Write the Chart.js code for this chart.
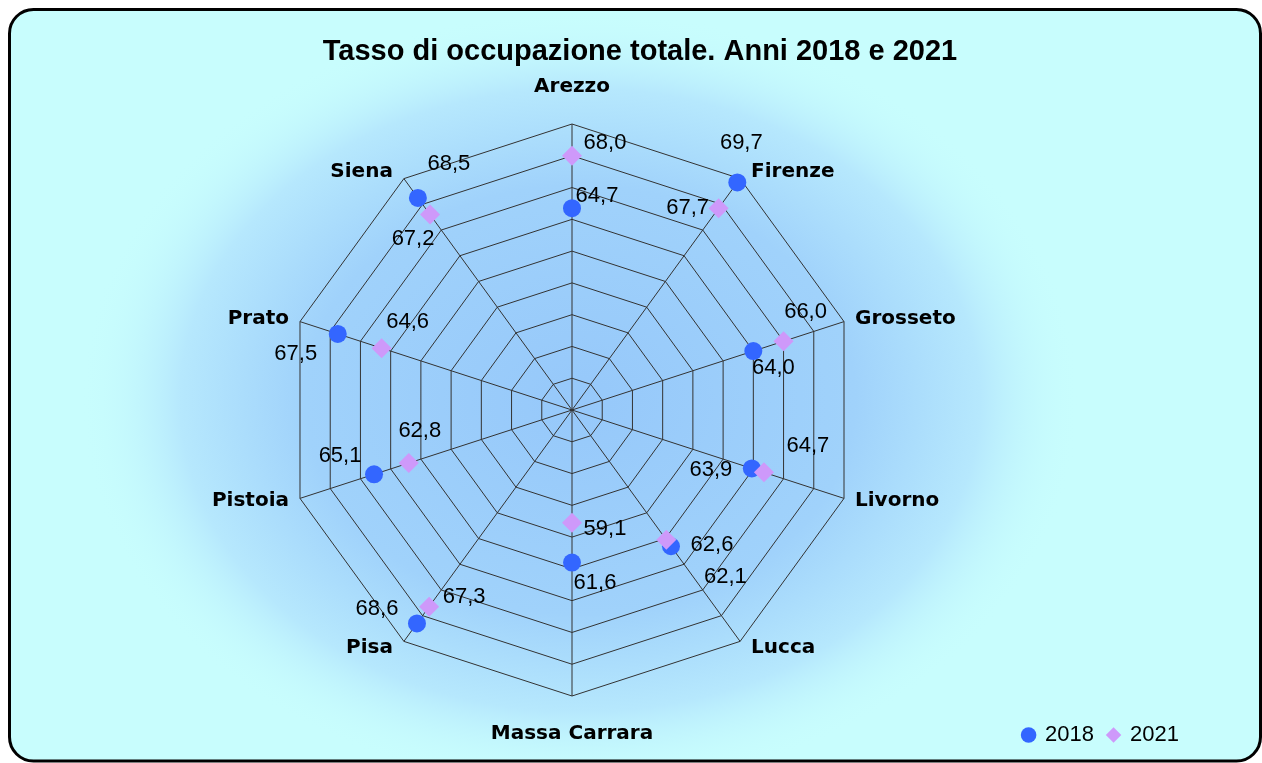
<!DOCTYPE html>
<html>
<head>
<meta charset="utf-8">
<script src="https://cdn.jsdelivr.net/npm/chart.js@4.4.1/dist/chart.umd.min.js"></script>
<style>
html,body{margin:0;padding:0;background:#ffffff;}
#wrap{width:1262px;height:763px;}
</style>
</head>
<body>
<div id="wrap"><canvas id="c" width="1262" height="763"></canvas></div>
<script>
// ---- data ----
const categories = ['Arezzo', 'Firenze', 'Grosseto', 'Livorno', 'Lucca', 'Massa Carrara', 'Pisa', 'Pistoia', 'Prato', 'Siena'];
const seriesNames = ['2018', '2021'];
const values2018 = [64.7, 69.7, 64.0, 63.9, 62.6, 61.6, 68.6, 65.1, 67.5, 68.5];
const values2021 = [68.0, 67.7, 66.0, 64.7, 62.1, 59.1, 67.3, 62.8, 64.6, 67.2];
const scaleMin = 52;
const scaleMax = 70;
const scaleStep = 2;
const chartTitle = 'Tasso di occupazione totale. Anni 2018 e 2021';

const fmt = v => v.toFixed(1).replace('.', ',');

// background panel with soft blue glow and rounded black border
const framePlugin = {
  id: 'framePanel',
  beforeDraw(chart, args, o) {
    const ctx = chart.ctx;
    const W = chart.width, H = chart.height;
    const x0 = o.left, y0 = o.top, x1 = W + o.overRight, y1 = H + o.overBottom, r = o.radius;
    const path = () => {
      ctx.beginPath();
      ctx.moveTo(x0 + r, y0);
      ctx.lineTo(x1 - r, y0);
      ctx.arcTo(x1, y0, x1, y0 + r, r);
      ctx.lineTo(x1, y1 - r);
      ctx.arcTo(x1, y1, x1 - r, y1, r);
      ctx.lineTo(x0 + r, y1);
      ctx.arcTo(x0, y1, x0, y1 - r, r);
      ctx.lineTo(x0, y0 + r);
      ctx.arcTo(x0, y0, x0 + r, y0, r);
      ctx.closePath();
    };
    ctx.save();
    path();
    ctx.fillStyle = o.outer;
    ctx.fill();
    ctx.save();
    path();
    ctx.clip();
    ctx.translate(o.glowX, o.glowY);
    ctx.scale(o.glowRX / o.glowRY, 1);
    const g = ctx.createRadialGradient(0, 0, 0, 0, 0, o.glowRY);
    g.addColorStop(0, o.inner);
    g.addColorStop(0.55, o.mid);
    g.addColorStop(0.8, o.mid2);
    g.addColorStop(1, o.outerT);
    ctx.fillStyle = g;
    ctx.fillRect(-3 * W, -3 * H, 6 * W, 6 * H);
    ctx.restore();
    path();
    ctx.lineWidth = o.borderWidth;
    ctx.strokeStyle = o.borderColor;
    ctx.stroke();
    ctx.restore();
  }
};

// place the radar frame inside the canvas
const radarFramePlugin = {
  id: 'radarFrame',
  afterLayout(chart, args, o) {
    const s = chart.scales.r;
    s.xCenter = o.centerX;
    s.yCenter = o.centerY;
    s.drawingArea = o.radius;
  }
};

// category labels around the radar
const categoryLabelPlugin = {
  id: 'categoryLabels',
  afterDraw(chart, args, o) {
    const s = chart.scales.r;
    const ctx = chart.ctx;
    ctx.save();
    ctx.font = o.font;
    ctx.fillStyle = o.color;
    chart.data.labels.forEach((lab, i) => {
      const v = s.getPointPosition(i, s.drawingArea);
      const sn = (v.x - s.xCenter) / s.drawingArea;
      const cs = (s.yCenter - v.y) / s.drawingArea;
      if (Math.abs(sn) < 0.01) {
        ctx.textAlign = 'center';
        if (cs > 0) {
          ctx.textBaseline = 'alphabetic';
          ctx.fillText(lab, v.x, v.y - o.topGap);
        } else {
          ctx.textBaseline = 'top';
          ctx.fillText(lab, v.x, v.y + o.bottomGap);
        }
      } else {
        ctx.textAlign = sn > 0 ? 'left' : 'right';
        ctx.textBaseline = 'middle';
        ctx.fillText(lab, v.x + (sn > 0 ? o.sideGap : -o.sideGap), v.y - o.lift * cs);
      }
    });
    ctx.restore();
  }
};

// value labels beside each marker
const valueLabelPlugin = {
  id: 'valueLabels',
  afterDraw(chart, args, o) {
    const ctx = chart.ctx;
    ctx.save();
    ctx.font = o.font;
    ctx.fillStyle = o.color;
    ctx.textAlign = 'center';
    ctx.textBaseline = 'middle';
    chart.data.datasets.forEach((ds, di) => {
      const meta = chart.getDatasetMeta(di);
      const offs = o.offsets[di];
      meta.data.forEach((pt, i) => {
        const [dx, dy] = offs[i];
        ctx.fillText(fmt(ds.data[i]), pt.x + dx, pt.y + dy);
      });
    });
    ctx.restore();
  }
};

const blue = 'rgb(51,102,255)';
const lilac = 'rgb(206,153,250)';

new Chart(document.getElementById('c'), {
  type: 'radar',
  data: {
    labels: categories,
    datasets: [
      {
        label: seriesNames[0],
        data: values2018,
        showLine: false,
        fill: false,
        borderWidth: 0,
        backgroundColor: blue,
        borderColor: blue,
        pointStyle: 'circle',
        pointRadius: 9,
        pointHoverRadius: 9,
        pointBackgroundColor: blue,
        pointBorderColor: blue,
        pointBorderWidth: 0,
        order: 2,
        clip: false
      },
      {
        label: seriesNames[1],
        data: values2021,
        showLine: false,
        fill: false,
        borderWidth: 0,
        backgroundColor: lilac,
        borderColor: lilac,
        pointStyle: 'rectRot',
        pointRadius: 10,
        pointHoverRadius: 10,
        pointBackgroundColor: lilac,
        pointBorderColor: lilac,
        pointBorderWidth: 0,
        order: 1,
        clip: false
      }
    ]
  },
  options: {
    responsive: false,
    animation: false,
    devicePixelRatio: 1,
    layout: { padding: { top: 9, left: 87, right: 69, bottom: 7 } },
    scales: {
      r: {
        min: scaleMin,
        max: scaleMax,
        beginAtZero: false,
        ticks: { display: false, stepSize: scaleStep },
        grid: { color: '#333333', lineWidth: 1, circular: false },
        angleLines: { color: '#333333', lineWidth: 1 },
        pointLabels: { display: false }
      }
    },
    plugins: {
      title: {
        display: true,
        text: chartTitle,
        color: '#000',
        font: { family: "'Liberation Sans', Arial, sans-serif", size: 29, weight: 'bold' },
        padding: { top: 26, bottom: 0 }
      },
      legend: {
        display: true,
        position: 'bottom',
        align: 'end',
        labels: {
          usePointStyle: true,
          boxWidth: 11,
          boxHeight: 11,
          padding: 14,
          color: '#000',
          font: { family: "'Liberation Sans', Arial, sans-serif", size: 22 },
          sort: (a, b) => a.datasetIndex - b.datasetIndex
        }
      },
      tooltip: { enabled: false },
      framePanel: {
        left: 9.5, top: 9.5, overRight: -1.5, overBottom: -2, radius: 24,
        outer: 'rgb(200,253,253)', outerT: 'rgba(200,253,253,0)',
        inner: 'rgb(150,200,250)', mid: 'rgb(160,210,251)', mid2: 'rgb(182,232,253)',
        glowX: 580, glowY: 400, glowRX: 500, glowRY: 390,
        borderWidth: 3, borderColor: '#000'
      },
      radarFrame: { centerX: 572, centerY: 410, radius: 286 },
      categoryLabels: {
        font: "bold 20px 'DejaVu Sans', sans-serif", color: '#000',
        topGap: 32, bottomGap: 28, sideGap: 11, lift: 8
      },
      valueLabels: {
        font: "22px 'Liberation Sans', Arial, sans-serif", color: '#000',
        offsets: [
          [[25, -12], [4, -40], [20, 17], [-41, 2], [41, -1], [23, 20], [-40, -14], [-34, -18], [-42, 20], [31, -34]],
          [[33, -13], [-31, 0], [22, -29], [44, -26], [59, 37], [33, 6], [35, -10], [11, -32], [26, -26], [-17, 24]]
        ]
      }
    }
  },
  plugins: [framePlugin, radarFramePlugin, categoryLabelPlugin, valueLabelPlugin]
});
</script>
</body>
</html>
